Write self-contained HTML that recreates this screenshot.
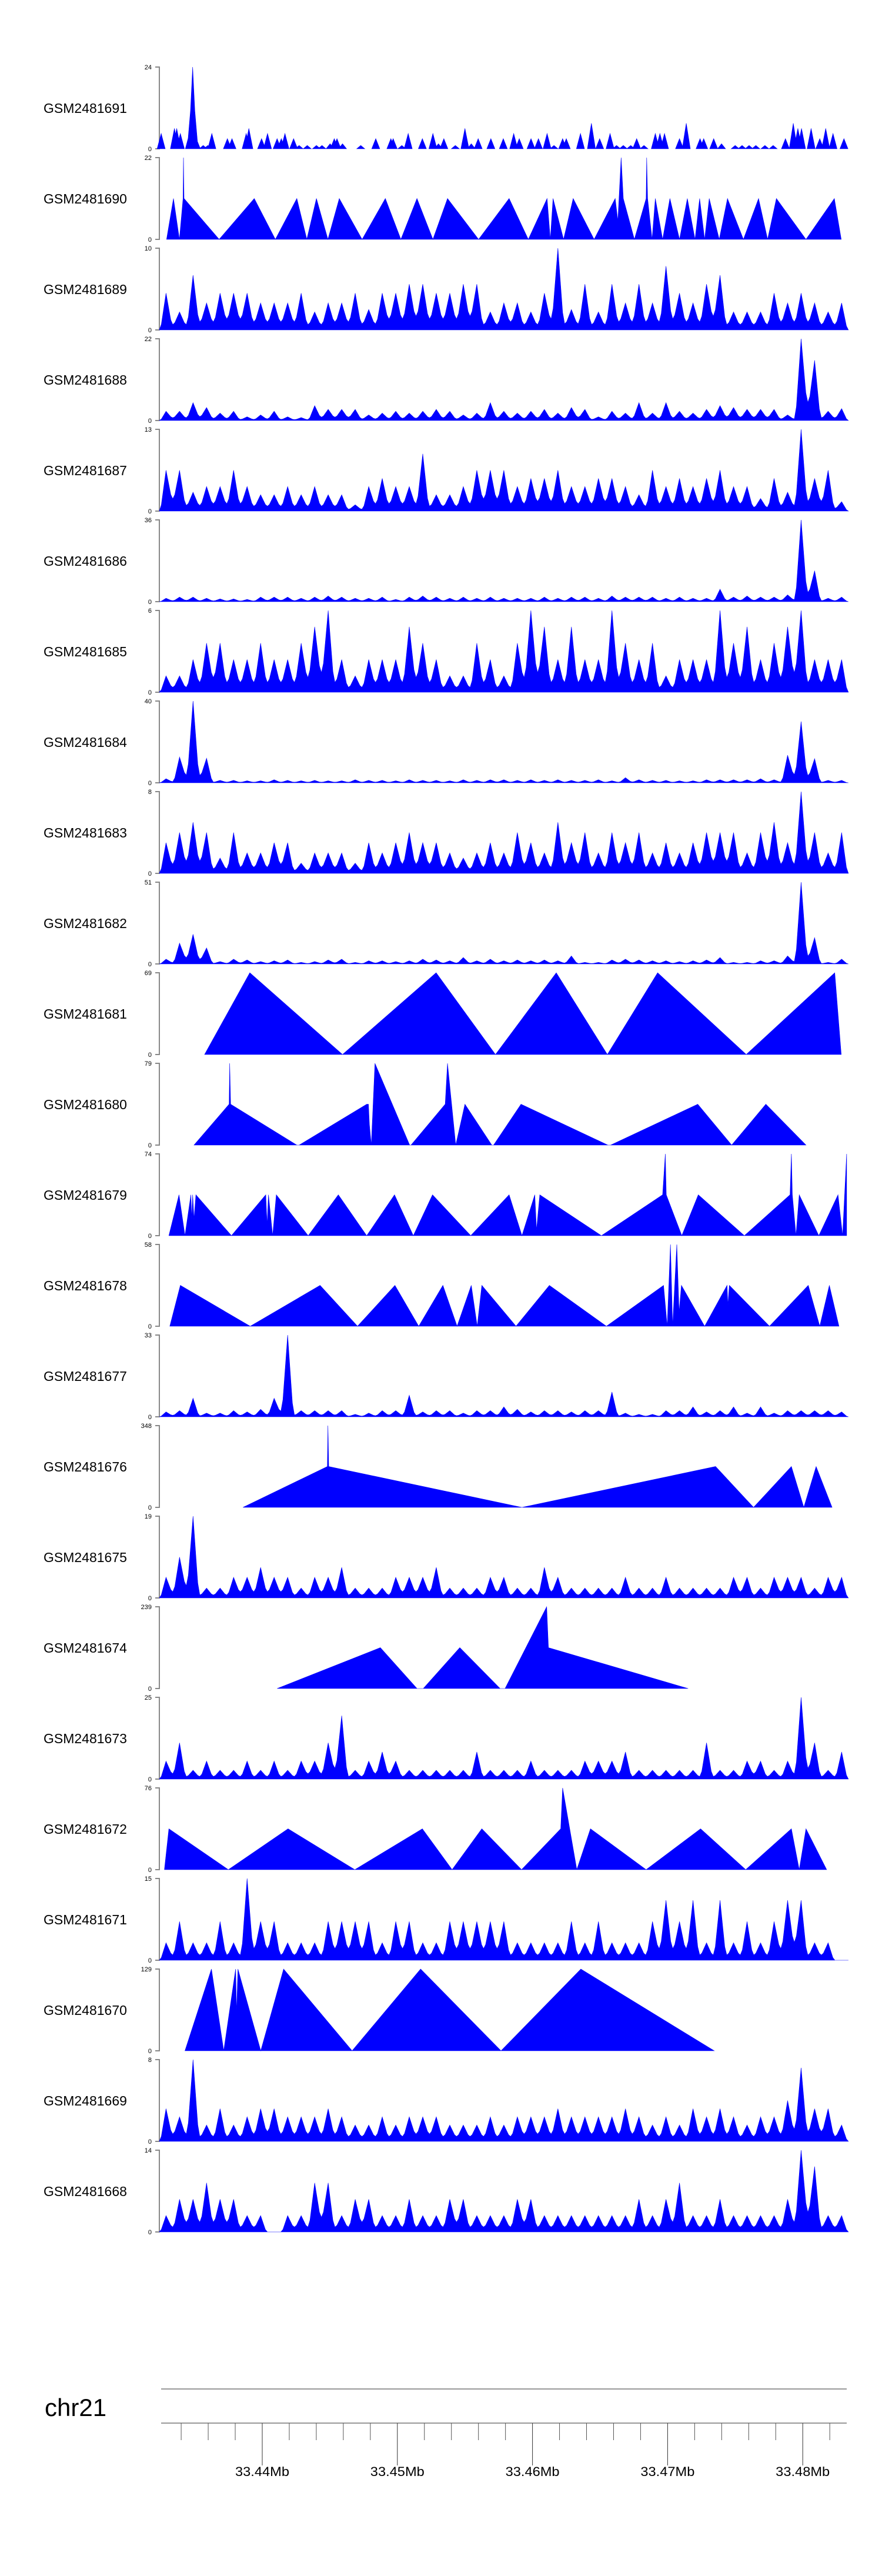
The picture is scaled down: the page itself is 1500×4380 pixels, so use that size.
<!DOCTYPE html>
<html><head><meta charset="utf-8"><title>Coverage tracks chr21</title>
<style>
html,body{margin:0;padding:0;background:#fff;}
svg{display:block;font-family:"Liberation Sans",Arial,sans-serif;}
</style></head>
<body>
<svg id="chart" width="1500" height="4380" viewBox="0 0 1500 4380" xmlns="http://www.w3.org/2000/svg">
<g id="tracks"></g>
<g id="genome-axis">
  <text x="76" y="4108" font-size="42" fill="#000">chr21</text>
  <line x1="274" y1="4062" x2="1440" y2="4062" stroke="#999" stroke-width="2"/>
  <line x1="274" y1="4120" x2="1440" y2="4120" stroke="#999" stroke-width="2"/>
</g>
</svg>
<script>
// ---- genome axis data (positions in kb relative to 33.43 Mb) ----
const axisMinorTicks = [4,6,8,12,14,16,18,22,24,26,28,32,34,36,38,42,44,46,48,52];
const axisMajorTicks = [10,20,30,40,50];
const axisMajorLabels = ["33.44Mb","33.45Mb","33.46Mb","33.47Mb","33.48Mb"];

// ---- tracks: names and y-axis maxima ----
const trackNames = ["GSM2481691","GSM2481690","GSM2481689","GSM2481688","GSM2481687","GSM2481686","GSM2481685","GSM2481684","GSM2481683","GSM2481682","GSM2481681","GSM2481680","GSM2481679","GSM2481678","GSM2481677","GSM2481676","GSM2481675","GSM2481674","GSM2481673","GSM2481672","GSM2481671","GSM2481670","GSM2481669","GSM2481668"];
const trackMax = [24,22,10,22,13,36,6,40,8,51,69,79,74,58,33,348,19,239,25,76,15,129,8,14];

// binned tracks: 1 kb bins starting at binStart
const binStart = 2.38;
const binStep = 1.0;

// GSM2481691 spikes (pos kb, value)
const t1691_pos = [2.52,3.5,3.67,3.94,4.61,4.75,4.85,4.95,5.12,5.63,5.97,6.27,7.42,7.76,8.81,9.01,9.95,10.39,11.1,11.41,11.68,12.32,12.73,13.33,14.01,14.42,15.02,15.33,15.53,15.94,17.29,18.4,19.52,19.69,20.33,20.8,21.85,22.63,23.04,23.44,24.29,25.0,25.47,25.98,26.92,27.84,28.61,29.02,29.89,30.44,31.08,31.59,32.23,32.5,33.55,34.36,34.97,35.74,36.22,36.72,37.27,37.71,38.25,39.09,39.43,39.77,40.88,41.38,42.4,42.67,43.41,43.99,45.0,45.51,46.03,46.53,47.2,47.81,48.72,49.3,49.64,49.91,50.62,51.26,51.7,52.24,53.05];
const t1691_val = [4.5,6,6,4.5,4.5,14,24,14,3,1,1,4.5,3,3,4.5,6,3,4.5,3,3,4.5,3,1,1,1,1,1.5,3,3,1.5,1,3,3,3,1,4.5,3,4.5,1.5,3,1,6,1.5,3,3,3,4.5,3,3,3,4.5,1,3,3,4.5,7.5,3,4.5,1,1,1,3,1,4.5,4.5,4.5,3,7.5,3,3,3,1.5,1,1,1,1,1,1,3,7.5,6,6,6,3,6,4.5,3];

// piecewise-linear (triangle) tracks: pos kb, value
const t1690_pos = [2.92,3.43,3.87,4.14,4.17,4.21,6.81,9.41,10.97,12.56,13.3,14.01,14.86,15.7,17.39,19.11,20.26,21.45,22.63,23.71,26.01,28.27,29.69,31.08,31.32,31.52,32.3,33.01,34.56,36.12,36.32,36.56,36.72,37.54,38.41,38.45,38.52,38.85,39.09,39.63,40.17,40.88,41.46,42.03,42.37,42.74,43.08,43.82,44.43,45.61,46.73,47.4,48.05,50.24,52.34,52.85];
const t1690_val = [0,11,0,11,22,11,0,11,0,11,0,11,0,11,0,11,0,11,0,11,0,11,0,11,0,11,0,11,0,11,5,22,11,0,11,22,11,0,11,0,11,0,11,0,11,0,11,0,11,0,11,0,11,0,11,0];

const t1689_val = [4.5,2.2,6.7,3.3,4.5,4.5,4.5,3.3,3.3,3.3,4.5,2.2,3.3,3.3,4.5,2.5,4.5,4.5,5.6,5.6,4.5,4.5,5.6,5.6,2.2,3.3,3.3,2.2,4.5,10,2.5,5.6,2.2,5.6,3.3,5.6,3.3,7.8,4.5,3.3,5.6,6.7,2.2,2.2,2.2,4.5,3.3,4.5,3.3,2.2,3.3];
const t1688_val = [2.5,2.5,4.8,3.5,2,2.5,1,1.5,2.5,1,0.8,4,3,3,3,1.5,2,2.5,2,2.5,3,2.5,1.5,2,4.8,2.5,2,2.5,3,2,3.5,3,1,2.5,2,4.8,2,4.8,2.5,2,3,4,3.5,3,3,3,1.5,22,16.2,2.5,3.2];
const t1687_val = [6.5,6.5,3,3.9,3.9,6.5,3.9,2.6,2.6,3.9,2.6,3.9,2.6,2.6,1,3.9,5.2,3.9,3.9,9.1,2.6,2.6,3.9,6.5,6.5,6.5,3.9,5.2,5.2,6.5,3.9,3.9,5.2,5.2,3.9,2.6,6.5,3.9,5.2,3.9,5.2,6.5,3.9,3.9,2,5.2,3,13,5.2,6.5,1.5];
const t1686_val = [1.5,2,2,1.5,1.2,1.2,1,2,2,2,1.5,2,2.5,2,1.5,1.5,2,1,2,2.5,2,1.5,2,1.5,2,1.5,1.5,1.5,2,1.5,2,2,1.5,2.5,2,2,2,1.5,2,1.5,1.5,5.5,2,2.5,2,2,3,36,13.6,1.5,2];
const t1685_val = [1.2,1.2,2.4,3.6,3.6,2.4,2.4,3.6,2.4,2.4,3.6,4.8,6,2.4,1.2,2.4,2.4,2.4,4.8,3.6,2.4,1.2,1.2,3.6,2.4,1.2,3.6,6,4.8,2.4,4.8,2.4,2.4,6,3.6,2.4,3.6,1.2,2.4,2.4,2.4,6,3.6,4.8,2.4,3.6,4.8,6,2.4,2.4,2.4];
const t1684_val = [2,12.6,40,12,1.2,1.2,1,1,1.5,1.2,1,1.2,1,1,1.5,1.2,1.2,1,1.5,1.2,1.2,1,1.5,1.2,1.5,1.5,1.2,1.5,1.2,1.5,1.2,1.2,1.5,1,2.5,1.5,1.2,1.2,1,1,1.5,1.5,1.5,1.5,2,1.5,13.5,30,11.8,1.2,1.2];
const t1683_val = [3,4,5,4,1.5,4,2,2,3,3,1,2,2,2,1,3,2,3,4,3,3,2,1.5,2,3,2,4,3,2,5,3,4,2,4,3,4,2,3,2,3,4,4,4,2,4,5,3,8,4,2,4];
const t1682_val = [3,13,18.5,10,1.5,3,2.5,1.5,2,2.5,1,1.5,2.5,3,1,2,2,1.5,2,3,2.5,2,4,2,3,2,2.5,2,2.5,2,5,1,1,2.5,3,2.5,2,2,1.5,2,2.5,4,1,1,2,2,5,51,16.4,1,3];

const t1681_pos = [5.73,9.08,15.94,22.87,27.26,31.76,35.54,39.26,45.82,52.37,52.85];
const t1681_val = [0,69,0,69,0,69,0,69,0,69,0];

const t1680_pos = [4.95,7.55,7.59,7.66,12.56,12.73,17.73,17.86,17.93,18.07,18.34,20.91,21.01,23.54,23.71,24.32,25.0,26.99,27.12,29.15,35.58,35.78,42.23,44.74,47.27,50.24];
const t1680_val = [0,39.5,79,39.5,0,0,39.5,39.5,20,0,79,0,0,39.5,79,0,39.5,0,0,39.5,0,0,39.5,0,39.5,0];

const t1679_pos = [3.09,3.84,4.28,4.72,4.78,4.85,4.95,5.09,7.72,10.26,10.36,10.46,10.77,11.04,13.4,15.63,17.73,19.79,21.18,22.6,25.43,28.27,29.22,30.17,30.3,30.54,35.1,39.63,39.83,39.9,41.05,42.27,45.68,49.06,49.16,49.23,49.5,49.74,51.19,52.61,52.95,53.25];
const t1679_val = [0,37,0,37,15,37,15,37,0,37,10,37,0,37,0,37,0,37,0,37,0,37,0,37,5,37,0,37,74,37,0,37,0,37,74,37,0,37,0,37,0,74];

const t1678_pos = [3.16,3.94,9.11,14.28,17.05,19.82,21.58,23.37,24.42,25.47,25.91,26.25,28.78,31.25,35.47,39.7,39.97,40.21,40.37,40.68,40.85,41.02,42.74,44.4,44.46,44.57,47.54,50.41,51.26,51.97,52.68];
const t1678_val = [0,29,0,29,0,29,0,29,0,29,0,29,0,29,0,29,0,58,0,58,10,29,0,29,15,29,0,29,0,29,0];

const t1677_val = [2,2.5,7.5,1.5,1.5,2.5,2,3,7.5,33,2.5,2.5,2.5,2.5,1,1.5,2.5,2.5,8.7,2,2.5,2.5,1.5,2.5,2.5,4,3,2,2.5,2.5,2,2.5,2.5,10,1.5,1,1,2.5,2.5,4,2,2.5,4,1.5,4,1.5,2.5,2.5,2.5,2.5,2];

const t1676_pos = [8.57,14.82,14.86,14.92,29.22,43.55,46.36,49.16,50.08,50.99,52.17];
const t1676_val = [0,174,348,174,0,174,0,174,0,174,0];

const t1675_val = [4.8,9.5,19,2.3,2.3,4.8,4.8,7.1,4.8,4.8,2.3,4.8,4.8,7.1,2.3,2.3,2.3,4.8,4.8,4.8,7.1,2.3,2.3,2.3,4.8,4.8,2.3,2.3,7.1,4.8,2.3,2.3,2.3,2.3,4.8,2.3,2.3,4.8,2.3,2.3,2.3,2.3,4.8,4.8,2.3,4.8,4.8,4.8,2.3,4.8,4.8];

const t1674_pos = [11.1,18.74,21.45,21.92,24.62,27.6,27.97,31.05,31.18,41.52];
const t1674_val = [0,119.5,0,0,119.5,0,0,239,119.5,0];

const t1673_val = [5.5,11.1,2.7,5.5,2.7,2.7,5.5,2.7,5.5,2.7,5.5,5.5,11.1,19.4,2.7,5.5,8.3,5.5,2.7,2.7,2.7,2.7,2.7,8.3,2.7,2.7,2.7,5.5,2.7,2.7,2.7,5.5,5.5,5.5,8.3,2.7,2.7,2.7,2.7,2.7,11.1,2.7,2.7,5.5,5.5,2.7,5.5,25,11.1,2.7,8.3];

const t1672_pos = [2.76,3.09,7.49,11.91,16.85,21.85,24.05,26.25,29.19,32.09,32.23,33.28,34.29,38.41,42.44,45.78,49.16,49.74,50.24,51.77];
const t1672_val = [0,38,0,38,0,38,0,38,0,38,76,0,38,0,38,0,38,0,38,0];

const t1671_val = [3.2,7.1,3.2,3.2,7.1,3.2,15,7.1,7.1,3.2,3.2,3.2,7.1,7.1,7.1,7.1,3.2,7.1,7.1,3.2,3.2,7.1,7.1,7.1,7.1,7.1,3.2,3.2,3.2,3.2,7.1,3.2,7.1,3.2,3.2,3.2,7.1,11,7.1,11,3.2,11,3.2,7.1,3.2,7.1,11,11,3.2,3.2,0];

const t1670_pos = [4.28,6.24,7.15,8.03,8.1,8.2,9.89,11.58,16.65,21.72,27.67,33.58,43.45];
const t1670_val = [0,129,0,129,60,129,0,129,0,129,0,129,0];

const t1669_val = [3.2,2.4,8,1.6,3.2,1.6,2.4,3.2,3.2,2.4,2.4,2.4,3.2,2.4,1.6,1.6,2.4,1.6,2.4,2.4,2.4,1.6,1.6,1.6,2.4,1.6,2.4,2.4,2.4,3.2,2.4,2.4,2.4,2.4,3.2,2.4,1.6,2.4,1.6,3.2,2.4,3.2,2.4,1.6,2.4,2.4,4,7.2,3.2,3.2,1.6];
const t1668_val = [2.8,5.6,5.6,8.4,5.6,5.6,2.8,2.8,0,2.8,2.8,8.4,8.4,2.8,5.6,5.6,2.8,2.8,5.6,2.8,2.8,5.6,5.6,2.8,2.8,2.8,5.6,5.6,2.8,2.8,2.8,2.8,2.8,2.8,2.8,5.6,2.8,5.6,8.4,2.8,2.8,5.6,2.8,2.8,2.8,2.8,5.6,14,11.2,2.8,2.8];

// which representation each track uses
const trackKinds = ["spikes","line","bins","bins","bins","bins","bins","bins","bins","bins","line","line","line","line","bins","line","bins","line","bins","line","bins","line","bins","bins"];

const lineData = {
  "GSM2481690":[t1690_pos,t1690_val], "GSM2481681":[t1681_pos,t1681_val], "GSM2481680":[t1680_pos,t1680_val],
  "GSM2481679":[t1679_pos,t1679_val], "GSM2481678":[t1678_pos,t1678_val], "GSM2481676":[t1676_pos,t1676_val],
  "GSM2481674":[t1674_pos,t1674_val], "GSM2481672":[t1672_pos,t1672_val], "GSM2481670":[t1670_pos,t1670_val]
};
const binData = {
  "GSM2481689":t1689_val,"GSM2481688":t1688_val,"GSM2481687":t1687_val,"GSM2481686":t1686_val,"GSM2481685":t1685_val,
  "GSM2481684":t1684_val,"GSM2481683":t1683_val,"GSM2481682":t1682_val,"GSM2481677":t1677_val,"GSM2481675":t1675_val,
  "GSM2481673":t1673_val,"GSM2481671":t1671_val,"GSM2481669":t1669_val,"GSM2481668":t1668_val
};

// ---- layout / scales ----
const NS = "http://www.w3.org/2000/svg";
const PX_PER_KB = 22.98;
function xScale(kb){ return 446 + (kb - 10) * PX_PER_KB; }
const TRACK_TOP0 = 114, TRACK_GAP = 154, TRACK_H = 139, AXIS_X = 271;
const VALLEY_FRAC = 0.3;
function yScale(i, v){ const top = TRACK_TOP0 + TRACK_GAP*i; return top + TRACK_H - (v / trackMax[i]) * TRACK_H; }
function mk(tag, attrs){ const e = document.createElementNS(NS, tag); for (const k in attrs) e.setAttribute(k, attrs[k]); return e; }
const f = n => n.toFixed(2);

const tracksG = document.getElementById("tracks");
trackNames.forEach((name, i) => {
  const top = TRACK_TOP0 + TRACK_GAP*i, bot = top + TRACK_H;
  const g = mk("g", {});
  
  
  tracksG.appendChild(g);

  const lab = mk("text", {x: 74, y: top + 78, "font-size": 23, fill: "#000"});
  
  
  lab.textContent = name; g.appendChild(lab);

  const ax = mk("path", {d: `M264 ${top}H${AXIS_X}V${bot}H264`, fill: "none", stroke: "#888", "stroke-width": 2});
  
  
  g.appendChild(ax);

  const tMax = mk("text", {x: 258, y: top + 4, "font-size": 11, fill: "#000", "text-anchor": "end"});
  
  
  tMax.textContent = String(trackMax[i]); g.appendChild(tMax);
  const t0 = mk("text", {x: 258, y: bot + 4, "font-size": 11, fill: "#000", "text-anchor": "end"});
  
  
  t0.textContent = "0"; g.appendChild(t0);

  let d = "";
  const kind = trackKinds[i];
  if (kind === "line") {
    const [pos, val] = lineData[name];
    d = `M${f(xScale(pos[0]))} ${bot}`;
    for (let j = 0; j < pos.length; j++) d += `L${f(xScale(pos[j]))} ${f(yScale(i, val[j]))}`;
    d += `L${f(xScale(pos[pos.length-1]))} ${bot}Z`;
  } else if (kind === "bins") {
    const vals = binData[name];
    d = `M${f(xScale(binStart))} ${bot}`;
    for (let j = 0; j < vals.length; j++) {
      const c = binStart + binStep*(j + 0.5);
      const v = vals[j];
      const prev = j > 0 ? vals[j-1] : 0;
      const next = j < vals.length-1 ? vals[j+1] : 0;
      const vl = Math.min(prev, v) * VALLEY_FRAC, vr = Math.min(next, v) * VALLEY_FRAC;
      d += `L${f(xScale(c - 0.35))} ${f(yScale(i, vl + (v - vl)*0.15))}`;
      d += `L${f(xScale(c))} ${f(yScale(i, v))}`;
      d += `L${f(xScale(c + 0.35))} ${f(yScale(i, vr + (v - vr)*0.15))}`;
      d += `L${f(xScale(c + binStep/2))} ${f(yScale(i, vr))}`;
    }
    d += `L${f(xScale(binStart + binStep*vals.length))} ${bot}Z`;
  } else {
    for (let j = 0; j < t1691_pos.length; j++) {
      const c = t1691_pos[j], w = 0.3;
      d += `M${f(xScale(c - w))} ${bot}L${f(xScale(c))} ${f(yScale(i, t1691_val[j]))}L${f(xScale(c + w))} ${bot}Z`;
    }
  }
  const area = mk("path", {d: d, fill: "#0000ff", stroke: "#0000ff", "stroke-width": 0.6, "stroke-linejoin": "miter"});
  
  
  g.appendChild(area);
});

// ---- genome axis ticks ----
const gax = document.getElementById("genome-axis");
axisMinorTicks.forEach(k => {
  const l = mk("line", {x1: f(xScale(k)), x2: f(xScale(k)), y1: 4120, y2: 4149, stroke: "#555", "stroke-width": 1});
  
  
  gax.appendChild(l);
});
axisMajorTicks.forEach((k, j) => {
  const l = mk("line", {x1: f(xScale(k)), x2: f(xScale(k)), y1: 4120, y2: 4192, stroke: "#333", "stroke-width": 1});
  
  
  gax.appendChild(l);
  const t = mk("text", {x: f(xScale(k)), y: 4210, "font-size": 22, "text-anchor": "middle", fill: "#000", textLength: 92, lengthAdjust: "spacingAndGlyphs"});
  
  
  t.textContent = axisMajorLabels[j];
  gax.appendChild(t);
});
</script>
</body></html>
